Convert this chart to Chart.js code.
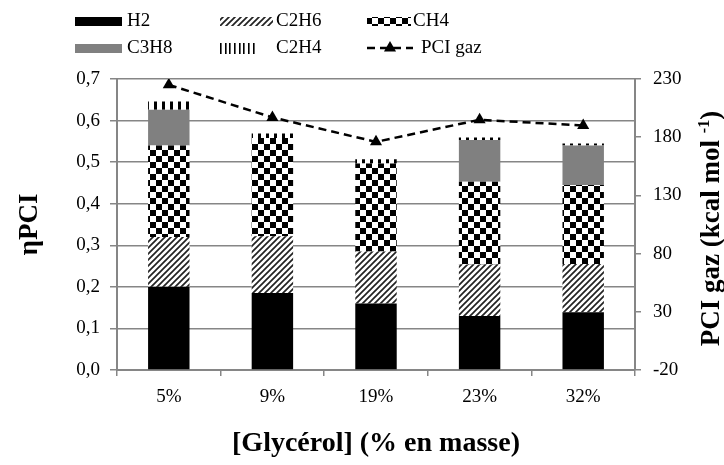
<!DOCTYPE html>
<html>
<head>
<meta charset="utf-8">
<script src="https://cdn.jsdelivr.net/npm/chart.js@4.4.0/dist/chart.umd.min.js"></script>
<style>
  html, body { margin: 0; padding: 0; background: #fff; }
  canvas { display: block; }
</style>
</head>
<body>
<canvas id="pciChart" width="724" height="465"></canvas>
<script>
// Data
var categories = ['5%', '9%', '19%', '23%', '32%'];
var h2   = [0.200, 0.185, 0.160, 0.130, 0.139];
var c2h6 = [0.120, 0.137, 0.125, 0.124, 0.116];
var ch4  = [0.220, 0.236, 0.212, 0.199, 0.190];
var c3h8 = [0.086, 0.000, 0.000, 0.100, 0.095];
var c2h4 = [0.020, 0.011, 0.010, 0.006, 0.005];
var pciGaz = [225, 197, 176, 195, 190];

var serif = "'Liberation Serif', 'Times New Roman', serif";
var gridGray = '#868686';

var canvas = document.getElementById('pciChart');
var ctx = canvas.getContext('2d');

// small tiles used as fill patterns
function makePattern(w, h, draw) {
    var c = document.createElement('canvas');
    c.width = w; c.height = h;
    var g = c.getContext('2d');
    g.fillStyle = '#fff';
    g.fillRect(0, 0, w, h);
    draw(g, w, h);
    return ctx.createPattern(c, 'repeat');
}

var hatch = makePattern(6, 6, function (g, w, h) {
    g.strokeStyle = '#222';
    g.lineWidth = 1.7;
    g.beginPath();
    g.moveTo(-1, h + 1); g.lineTo(w + 1, -1);
    g.moveTo(-1, 1); g.lineTo(1, -1);
    g.moveTo(w - 1, h + 1); g.lineTo(w + 1, h - 1);
    g.stroke();
});

var checker = makePattern(12, 12, function (g) {
    g.fillStyle = '#000';
    g.fillRect(0, 0, 6, 6);
    g.fillRect(6, 6, 6, 6);
});

var vlines = makePattern(8, 8, function (g) {
    g.fillStyle = '#000';
    g.fillRect(2, 0, 3, 8);
});

// legend drawn by hand: 3 columns x 2 rows like the original
var legendPlugin = {
    id: 'gridLegend',
    afterDraw: function (chart) {
        var c = chart.ctx;
        var slots = [
            { ds: 0, x: 75,  y: 21, w: 47, tx: 127 },
            { ds: 1, x: 220, y: 21, w: 53, tx: 276 },
            { ds: 2, x: 367, y: 21, w: 44, tx: 413 },
            { ds: 3, x: 75,  y: 48, w: 47, tx: 127 },
            { ds: 4, x: 220, y: 48, w: 37, tx: 276 },
            { ds: 5, x: 367, y: 48, w: 46, tx: 421 }
        ];
        c.save();
        c.font = '19px ' + serif;
        c.textBaseline = 'middle';
        c.textAlign = 'left';
        slots.forEach(function (s) {
            var ds = chart.data.datasets[s.ds];
            if (ds.type === 'line') {
                c.strokeStyle = '#000';
                c.lineWidth = 2.5;
                c.setLineDash([8, 5]);
                c.beginPath();
                c.moveTo(s.x, s.y);
                c.lineTo(s.x + s.w, s.y);
                c.stroke();
                c.setLineDash([]);
                var cx = s.x + s.w / 2, r = 7;
                c.fillStyle = '#000';
                c.beginPath();
                c.moveTo(cx, s.y - r);
                c.lineTo(cx + r * 0.866, s.y + r / 2);
                c.lineTo(cx - r * 0.866, s.y + r / 2);
                c.closePath();
                c.fill();
            } else if (ds.backgroundColor === vlines) {
                // the legend swatch has finer vertical strokes
                c.fillStyle = '#000';
                for (var x = s.x; x < s.x + s.w; x += 4.7) {
                    c.fillRect(Math.round(x), s.y - 5, 1.6, 11);
                }
            } else {
                c.fillStyle = ds.backgroundColor;
                c.fillRect(s.x, s.y - 4, s.w, 9);
            }
            c.fillStyle = '#000';
            c.fillText(ds.label, s.tx, s.y);
        });
        c.restore();
    }
};

// right axis title reads bottom-to-top with a superscript
var rightTitlePlugin = {
    id: 'rightTitle',
    afterDraw: function (chart) {
        var c = chart.ctx, area = chart.chartArea;
        var big = 'bold 27px ' + serif, small = 'bold 16px ' + serif;
        var a = 'PCI gaz (kcal mol ', s = '-1', b = ')';
        c.save();
        c.translate(719, (area.top + area.bottom) / 2 + 4);
        c.rotate(-Math.PI / 2);
        c.font = big;
        var wa = c.measureText(a).width, wb = c.measureText(b).width;
        c.font = small;
        var ws = c.measureText(s).width;
        var x0 = -(wa + ws + wb) / 2;
        c.fillStyle = '#000';
        c.textAlign = 'left';
        c.textBaseline = 'alphabetic';
        c.font = big;
        c.fillText(a, x0, 0);
        c.font = small;
        c.fillText(s, x0 + wa, -10);
        c.font = big;
        c.fillText(b, x0 + wa + ws, 0);
        c.restore();
    }
};

Chart.defaults.font.family = serif;
Chart.defaults.color = '#000';

var chart = new Chart(ctx, {
    type: 'bar',
    data: {
        labels: categories,
        datasets: [
            { label: 'H2',   data: h2,   backgroundColor: '#000', order: 1 },
            { label: 'C2H6', data: c2h6, backgroundColor: hatch, order: 1 },
            { label: 'CH4',  data: ch4,  backgroundColor: checker, order: 1 },
            { label: 'C3H8', data: c3h8, backgroundColor: '#808080', order: 1 },
            { label: 'C2H4', data: c2h4, backgroundColor: vlines, order: 1 },
            {
                type: 'line',
                label: 'PCI gaz',
                data: pciGaz,
                yAxisID: 'y1',
                order: 0,
                borderColor: '#000',
                borderWidth: 2.5,
                borderDash: [8, 5],
                fill: false,
                tension: 0,
                pointStyle: 'triangle',
                pointRadius: 7,
                pointBackgroundColor: '#000',
                pointBorderColor: '#000',
                pointBorderWidth: 0
            }
        ]
    },
    options: {
        responsive: false,
        animation: false,
        devicePixelRatio: 1,
        layout: { padding: { top: 79, left: 0, right: 0, bottom: 0 } },
        datasets: {
            bar: { barPercentage: 0.4, categoryPercentage: 1.0, borderWidth: 0 }
        },
        scales: {
            x: {
                stacked: true,
                afterFit: function (s) { s.height = 95; },
                grid: { drawOnChartArea: false, drawTicks: true, tickLength: 6, color: gridGray, lineWidth: 1.5 },
                border: { display: true, color: gridGray, width: 2 },
                ticks: { font: { size: 19 }, padding: 10 },
                title: {
                    display: true,
                    text: '[Glycérol] (% en masse)',
                    font: { size: 28, weight: 'bold', lineHeight: 1 },
                    padding: { top: 0, bottom: 7 }
                }
            },
            y: {
                stacked: true,
                position: 'left',
                min: 0,
                max: 0.7,
                afterFit: function (s) { s.width = 117; },
                grid: { color: gridGray, lineWidth: 1.5, tickLength: 7 },
                border: { display: true, color: gridGray, width: 2 },
                ticks: {
                    stepSize: 0.1,
                    font: { size: 19 },
                    padding: 10,
                    callback: function (v) { return v.toFixed(1).replace('.', ','); }
                },
                title: {
                    display: true,
                    text: 'ηPCI',
                    font: { size: 27, weight: 'bold', lineHeight: 1 },
                    padding: { top: 17, bottom: 0 }
                }
            },
            y1: {
                position: 'right',
                min: -20,
                max: 230,
                afterFit: function (s) { s.width = 89; },
                grid: { drawOnChartArea: false, color: gridGray, lineWidth: 1.5, tickLength: 6 },
                border: { display: true, color: gridGray, width: 2 },
                ticks: { stepSize: 50, font: { size: 19 }, padding: 12 }
            }
        },
        plugins: {
            legend: { display: false },
            title: { display: false },
            tooltip: { enabled: false }
        }
    },
    plugins: [legendPlugin, rightTitlePlugin]
});
</script>
</body>
</html>
